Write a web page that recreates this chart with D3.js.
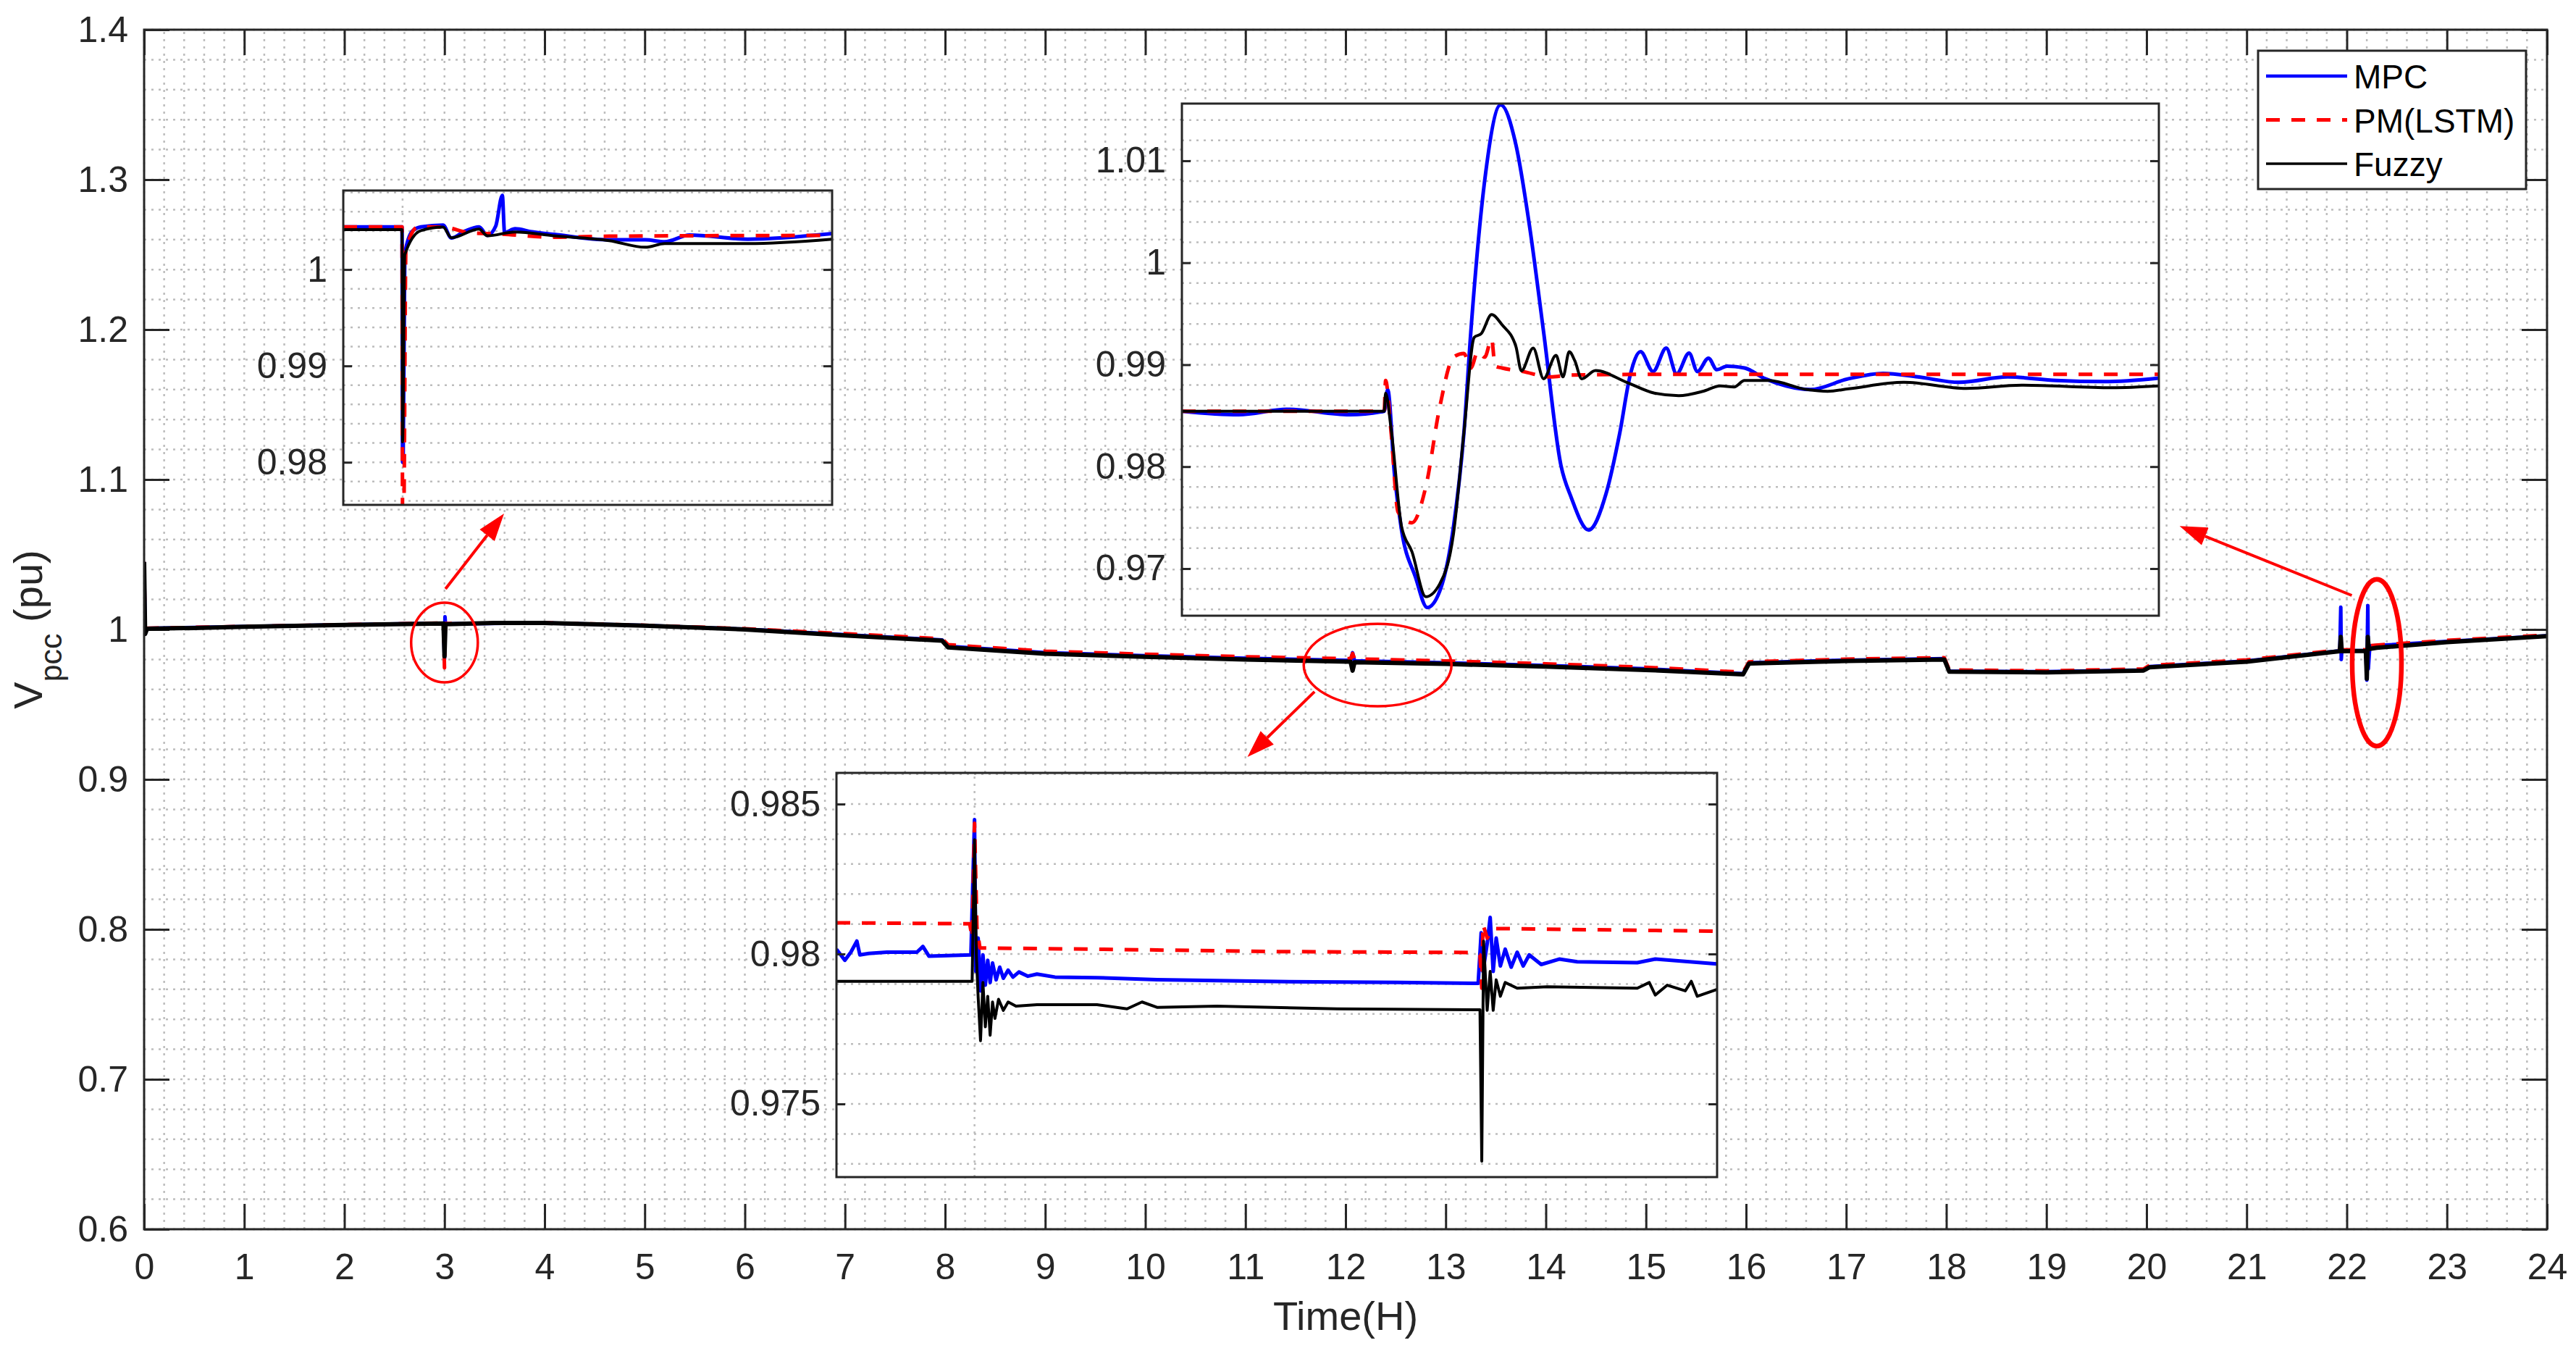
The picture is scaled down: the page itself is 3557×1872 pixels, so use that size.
<!DOCTYPE html>
<html>
<head>
<meta charset="utf-8">
<script src="https://cdn.jsdelivr.net/npm/d3@7"></script>
<style>
  body { margin: 0; background: #fff; }
  svg { display: block; font-family: "Liberation Sans", Arial, sans-serif; }
</style>
</head>
<body>
<svg id="chart"></svg>
<script>
// series names and styles
let seriesNames = ["MPC", "PM(LSTM)", "Fuzzy"];
let seriesColors = ["#0000ff", "#ff0000", "#000000"];

// x ticks (hours) and y ticks of the main plot
let xTicks = d3.range(0, 25, 1);
let xTickLabels = xTicks.map(d => String(d));
let yTicks = [0.6, 0.7, 0.8, 0.9, 1.0, 1.1, 1.2, 1.3, 1.4];
let yTickLabels = ["0.6", "0.7", "0.8", "0.9", "1", "1.1", "1.2", "1.3", "1.4"];

// main plot, [time (H), Vpcc (pu)]
let mainMpc = [
  [0, 1.045], [0.01, 0.997], [0.03, 1.0007], [1, 1.0019], [2, 1.0031], [2.99, 1.0042],
  [3.0, 0.9800], [3.005, 1.0085], [3.01, 1.0038], [4, 1.0044], [5, 1.0026], [6, 1.0002],
  [7, 0.9965], [7.97, 0.9930], [8.03, 0.9888], [9, 0.9845], [10, 0.9825], [11, 0.9808],
  [12.05, 0.9793], [12.07, 0.9845], [12.09, 0.9791], [13, 0.9778], [14, 0.9760], [15, 0.9738],
  [15.97, 0.9705], [16.03, 0.9778], [17, 0.9795], [17.98, 0.9805], [18.03, 0.9722], [19, 0.9718],
  [19.97, 0.9730], [20.03, 0.9752], [21, 0.9790], [21.93, 0.9858], [21.94, 1.0148], [21.945, 0.9800],
  [21.95, 0.9858], [22.19, 0.9860], [22.2, 0.9662], [22.21, 1.0160], [22.215, 0.9738], [22.23, 0.9890],
  [23, 0.9920], [24, 0.9958]
];
let mainPm = [
  [0, 1.045], [0.01, 0.997], [0.03, 1.0008], [1, 1.0020], [2, 1.0032], [2.99, 1.0043],
  [3.0, 0.9744], [3.01, 1.0040], [4, 1.0045], [5, 1.0028], [6, 1.0005], [7, 0.9972],
  [7.97, 0.9938], [8.03, 0.9898], [9, 0.9855], [10, 0.9835], [11, 0.9818], [12.05, 0.9805],
  [12.07, 0.9840], [12.09, 0.9804], [13, 0.9790], [14, 0.9771], [15, 0.9748], [15.97, 0.9715],
  [16.03, 0.9784], [17, 0.9802], [17.98, 0.9812], [18.03, 0.9730], [19, 0.9724], [19.97, 0.9736],
  [20.03, 0.9760], [21, 0.9797], [21.93, 0.9864], [22.19, 0.9865], [22.2, 0.9745], [22.21, 0.9910],
  [22.22, 0.9892], [23, 0.9927], [24, 0.9963]
];
let mainFuzzy = [
  [0, 1.045], [0.01, 0.997], [0.03, 1.0005], [0.5, 1.0010], [1, 1.0018], [2, 1.0030],
  [2.99, 1.0040], [3.0, 0.9821], [3.01, 1.0035], [3.5, 1.0043], [4, 1.0043], [5, 1.0025],
  [6, 1.0000], [7, 0.9960], [7.97, 0.9925], [8.03, 0.9880], [9, 0.9838], [10, 0.9818],
  [11, 0.9800], [12.05, 0.9785], [12.07, 0.9725], [12.09, 0.9782], [13, 0.9770], [14, 0.9752],
  [15, 0.9730], [15.97, 0.9700], [16.03, 0.9773], [17, 0.9790], [17.98, 0.9800], [18.03, 0.9718],
  [19, 0.9714], [19.97, 0.9726], [20.03, 0.9748], [21, 0.9785], [21.93, 0.9855], [21.94, 0.9950],
  [21.95, 0.9855], [22.19, 0.9858], [22.2, 0.9672], [22.21, 0.9950], [22.22, 0.9870], [22.3, 0.9878],
  [23, 0.9915], [24, 0.9955]
];

// zoom 1 (event near 3 H), [time (s) in window, Vpcc]
let inset1Ticks = [0.98, 0.99, 1.0];
let inset1Labels = ["0.98", "0.99", "1"];
let inset1Mpc = [
  [0, 1.00442], [106, 1.00442], [107, 0.9800], [108, 0.9800], [111, 1.0016], [125, 1.0040],
  [140, 1.00442], [180, 1.00462], [195, 1.00327], [220, 1.0040], [245, 1.00442], [260, 1.00354],
  [275, 1.0045], [287, 1.00769], [291, 1.00385], [310, 1.00423], [340, 1.00392], [380, 1.00365],
  [480, 1.00308], [545, 1.00308], [580, 1.00288], [625, 1.00358], [730, 1.00315], [882, 1.00373]
];
let inset1Pm = [
  [0, 1.00442], [106, 1.00442], [107, 0.9740], [109, 0.9740], [113, 1.0020], [135, 1.00442],
  [180, 1.0044], [230, 1.0038], [280, 1.0037], [380, 1.00335], [480, 1.00346], [882, 1.00354]
];
let inset1Fuzzy = [
  [0, 1.00415], [106, 1.00415], [107, 0.98212], [111, 1.00154], [140, 1.00404], [180, 1.0044],
  [195, 1.0033], [245, 1.0042], [260, 1.0035], [310, 1.0039], [380, 1.0035], [480, 1.0030],
  [545, 1.00231], [580, 1.00269], [730, 1.00269], [882, 1.00315]
];

// zoom 2 (event near 22.2 H)
let inset2Ticks = [0.97, 0.98, 0.99, 1.0, 1.01];
let inset2Labels = ["0.97", "0.98", "0.99", "1", "1.01"];
let inset2Mpc = [
  [0, 0.98544], [82, 0.98509], [152, 0.98562], [242, 0.98509], [287, 0.98537], [292, 0.98544],
  [297, 0.98756], [307, 0.97908], [317, 0.97378], [337, 0.96919], [354, 0.96618], [372, 0.96777],
  [392, 0.97413], [407, 0.98332], [417, 0.99322], [437, 1.00806], [460, 1.01548], [482, 1.01159],
  [502, 1.00346], [522, 0.99322], [547, 0.98014], [562, 0.97696], [587, 0.97378], [612, 0.97731],
  [632, 0.98332], [647, 0.98898], [662, 0.99127], [680, 0.98933], [699, 0.99163], [714, 0.98910],
  [732, 0.99113], [744, 0.98933], [760, 0.99064], [772, 0.98951], [787, 0.98986], [812, 0.98968],
  [842, 0.98862], [872, 0.98792], [907, 0.98756], [962, 0.98862], [1012, 0.98915], [1062, 0.98880],
  [1122, 0.98827], [1192, 0.98880], [1262, 0.98845], [1332, 0.98834], [1410, 0.98869]
];
let inset2Pm = [
  [0, 0.98544], [292, 0.98544], [294, 0.98845], [302, 0.98332], [312, 0.97555], [332, 0.97450],
  [352, 0.97802], [372, 0.98580], [392, 0.99074], [407, 0.99110], [417, 0.98968], [427, 0.99127],
  [437, 0.99074], [447, 0.99251], [452, 0.98986], [462, 0.98968], [492, 0.98933], [532, 0.98880],
  [562, 0.98898], [662, 0.98905], [1410, 0.98905]
];
let inset2Fuzzy = [
  [0, 0.98544], [292, 0.98544], [294, 0.98721], [302, 0.98367], [317, 0.97413], [332, 0.97166],
  [352, 0.96724], [372, 0.96848], [392, 0.97343], [407, 0.98332], [422, 0.99269], [432, 0.99304],
  [447, 0.99491], [462, 0.99392], [482, 0.99180], [490, 0.98940], [507, 0.99163], [522, 0.98862],
  [540, 0.99092], [550, 0.98880], [559, 0.99127], [567, 0.99039], [577, 0.98862], [597, 0.98943],
  [642, 0.98827], [682, 0.98721], [717, 0.98696], [752, 0.98739], [777, 0.98792], [797, 0.98781],
  [812, 0.98845], [847, 0.98845], [902, 0.98756], [932, 0.98739], [962, 0.98763], [1042, 0.98827],
  [1132, 0.98767], [1212, 0.98799], [1342, 0.98774], [1410, 0.98792]
];

// zoom 3 (events near 12 H)
let inset3Ticks = [0.975, 0.98, 0.985];
let inset3Labels = ["0.975", "0.98", "0.985"];
let inset3Mpc = [
  [0, 0.98016], [14, 0.97979], [24, 0.98006], [34, 0.98043], [39, 0.97997], [54, 0.98002],
  [84, 0.98006], [134, 0.98006], [144, 0.98025], [154, 0.97993], [224, 0.97997], [230, 0.98448],
  [232, 0.97942], [236, 0.98053], [240, 0.97877], [244, 0.97997], [248, 0.97896], [252, 0.97979],
  [256, 0.97905], [260, 0.97970], [266, 0.97914], [272, 0.97956], [278, 0.97919], [286, 0.97946],
  [294, 0.97923], [304, 0.97940], [319, 0.97926], [334, 0.97933], [364, 0.97923], [434, 0.97921],
  [534, 0.97914], [734, 0.97908], [934, 0.97905], [1069, 0.97902], [1074, 0.98071], [1077, 0.97942],
  [1084, 0.98034], [1089, 0.98122], [1094, 0.97942], [1099, 0.98053], [1106, 0.97960], [1114, 0.98016],
  [1124, 0.97956], [1134, 0.98006], [1144, 0.97960], [1154, 0.97997], [1174, 0.97965], [1204, 0.97983],
  [1234, 0.97974], [1334, 0.97971], [1364, 0.97983], [1467, 0.97967]
];
let inset3Pm = [
  [0, 0.98104], [222, 0.98101], [226, 0.98053], [230, 0.98436], [234, 0.98090], [239, 0.98020],
  [434, 0.98016], [734, 0.98008], [1054, 0.98005], [1072, 0.97997], [1075, 0.97886], [1077, 0.98099],
  [1084, 0.98053], [1094, 0.98085], [1467, 0.98076]
];
let inset3Fuzzy = [
  [0, 0.97909], [226, 0.97909], [230, 0.98381], [233, 0.97997], [236, 0.97859], [240, 0.97711],
  [244, 0.97905], [248, 0.97757], [252, 0.97859], [256, 0.97729], [260, 0.97840], [264, 0.97785],
  [270, 0.97849], [278, 0.97812], [286, 0.97840], [299, 0.97826], [334, 0.97831], [434, 0.97831],
  [484, 0.97817], [509, 0.97840], [534, 0.97822], [634, 0.97826], [834, 0.97817], [1069, 0.97814],
  [1072, 0.97814], [1075, 0.97309], [1078, 0.98043], [1084, 0.97812], [1089, 0.97942], [1094, 0.97812],
  [1099, 0.97914], [1106, 0.97859], [1114, 0.97905], [1134, 0.97886], [1184, 0.97891], [1334, 0.97886],
  [1354, 0.97905], [1364, 0.97863], [1384, 0.97896], [1414, 0.97877], [1424, 0.97909], [1434, 0.97859],
  [1467, 0.97882]
];

// canvas
let width = 3557;
let height = 1872;
let plot = {left: 199, top: 41, right: 3517, bottom: 1697};
let axisColor = "#262626";
let gridColor = "#bdbdbd";

let svg = d3.select("#chart")
  .attr("width", width)
  .attr("height", height)
  .attr("viewBox", [0, 0, width, height]);

let xScale = d3.scaleLinear().domain([0, 24]).range([plot.left, plot.right]);
let yScale = d3.scaleLinear().domain([0.6, 1.4]).range([plot.bottom, plot.top]);

let defs = svg.append("defs");
defs.append("clipPath").attr("id", "clip-main")
  .append("rect")
  .attr("x", plot.left).attr("y", plot.top)
  .attr("width", plot.right - plot.left).attr("height", plot.bottom - plot.top);

// dotted grid
let drawGrid = (g, xs, ys, xValues, yValues) => {
  let [x0, x1] = xs.range();
  let [y0, y1] = ys.range();
  g.selectAll(null).data(xValues).enter().append("line")
    .attr("x1", d => xs(d)).attr("x2", d => xs(d))
    .attr("y1", y0).attr("y2", y1)
    .attr("stroke", gridColor).attr("stroke-width", 2.5)
    .attr("stroke-dasharray", "3,7");
  g.selectAll(null).data(yValues).enter().append("line")
    .attr("x1", x0).attr("x2", x1)
    .attr("y1", d => ys(d)).attr("y2", d => ys(d))
    .attr("stroke", gridColor).attr("stroke-width", 2.5)
    .attr("stroke-dasharray", "3,7");
};

let gridG = svg.append("g");
drawGrid(gridG, xScale, yScale,
  d3.range(0, 24.001, 0.2),
  d3.range(0.6, 1.4001, 0.02));

// axes with inward ticks on all four sides
let styleAxis = (g) => {
  g.select(".domain").remove();
  g.selectAll(".tick line").attr("stroke", axisColor).attr("stroke-width", 3);
  g.selectAll(".tick text").attr("fill", axisColor).attr("font-size", 50);
};

svg.append("g")
  .attr("transform", "translate(0," + plot.bottom + ")")
  .call(d3.axisBottom(xScale).tickValues(xTicks).tickSize(-35).tickPadding(33)
    .tickFormat((d, i) => xTickLabels[i]))
  .call(styleAxis);
svg.append("g")
  .attr("transform", "translate(0," + plot.top + ")")
  .call(d3.axisTop(xScale).tickValues(xTicks).tickSize(-35).tickFormat(""))
  .call(styleAxis);
svg.append("g")
  .attr("transform", "translate(" + plot.left + ",0)")
  .call(d3.axisLeft(yScale).tickValues(yTicks).tickSize(-35).tickPadding(22)
    .tickFormat((d, i) => yTickLabels[i]))
  .call(styleAxis);
svg.append("g")
  .attr("transform", "translate(" + plot.right + ",0)")
  .call(d3.axisRight(yScale).tickValues(yTicks).tickSize(-35).tickFormat(""))
  .call(styleAxis);

// the three series
let drawSeries = (g, xs, ys, data, i, widths, clipId, curve) => {
  let line = d3.line().x(d => xs(d[0])).y(d => ys(d[1])).curve(curve || d3.curveLinear);
  g.append("path")
    .datum(data)
    .attr("clip-path", "url(#" + clipId + ")")
    .attr("d", line)
    .attr("fill", "none")
    .attr("stroke", seriesColors[i])
    .attr("stroke-width", widths[i])
    .attr("stroke-linejoin", "round")
    .attr("stroke-dasharray", i == 1 ? "19,16" : null);
};

let mainG = svg.append("g");
[mainMpc, mainPm, mainFuzzy].forEach((data, i) => {
  drawSeries(mainG, xScale, yScale, data, i, [5, 5, 6], "clip-main");
});

// box of the main axes
svg.append("rect")
  .attr("x", plot.left).attr("y", plot.top)
  .attr("width", plot.right - plot.left).attr("height", plot.bottom - plot.top)
  .attr("fill", "none").attr("stroke", axisColor).attr("stroke-width", 3);

// ellipses and arrows, in data units of the main plot
let marks = [
  {cx: 3.0, cy: 0.9913, rx: 0.333, ry: 0.0266, w: 3.5},
  {cx: 12.32, cy: 0.9763, rx: 0.738, ry: 0.0275, w: 3.5},
  {cx: 22.30, cy: 0.9778, rx: 0.246, ry: 0.0556, w: 6.5}
];
let arrows = [
  {from: [3.01, 1.0271], to: [3.595, 1.0773]},
  {from: [11.69, 0.9585], to: [11.02, 0.915]},
  {from: [22.05, 1.0227], to: [20.33, 1.069]}
];

svg.append("g").selectAll("ellipse")
  .data(marks).enter().append("ellipse")
  .attr("cx", d => xScale(d.cx)).attr("cy", d => yScale(d.cy))
  .attr("rx", d => xScale(d.cx + d.rx) - xScale(d.cx))
  .attr("ry", d => yScale(d.cy - d.ry) - yScale(d.cy))
  .attr("fill", "none").attr("stroke", "#ff0000")
  .attr("stroke-width", d => d.w);

let arrowG = svg.append("g");
arrows.forEach(a => {
  let x1 = xScale(a.from[0]), y1 = yScale(a.from[1]);
  let x2 = xScale(a.to[0]), y2 = yScale(a.to[1]);
  let ang = Math.atan2(y2 - y1, x2 - x1);
  let len = 38, half = 13;
  let bx = x2 - len * Math.cos(ang), by = y2 - len * Math.sin(ang);
  arrowG.append("line")
    .attr("x1", x1).attr("y1", y1).attr("x2", bx).attr("y2", by)
    .attr("stroke", "#ff0000").attr("stroke-width", 4);
  arrowG.append("polygon")
    .attr("points", [
      [x2, y2],
      [bx + half * Math.sin(ang), by - half * Math.cos(ang)],
      [bx - half * Math.sin(ang), by + half * Math.cos(ang)]
    ].map(p => p.join(",")).join(" "))
    .attr("fill", "#ff0000");
});

// zoomed insets
let drawInset = (id, box, xDomain, yDomain, ticks, labels, minorStep, xGrid, data, curve) => {
  let xs = d3.scaleLinear().domain(xDomain).range([box.x0, box.x1]);
  let ys = d3.scaleLinear().domain(yDomain).range([box.y1, box.y0]);
  let g = svg.append("g");
  g.append("rect")
    .attr("x", box.x0).attr("y", box.y0)
    .attr("width", box.x1 - box.x0).attr("height", box.y1 - box.y0)
    .attr("fill", "#fff");
  defs.append("clipPath").attr("id", id)
    .append("rect")
    .attr("x", box.x0).attr("y", box.y0)
    .attr("width", box.x1 - box.x0).attr("height", box.y1 - box.y0);

  let minor = d3.range(Math.ceil(yDomain[0] / minorStep - 1e-6) * minorStep, yDomain[1], minorStep);
  drawGrid(g, xs, ys, xGrid, minor);

  data.forEach((d, i) => drawSeries(g, xs, ys, d, i, [5, 5, 4], id, curve));

  g.append("g")
    .attr("transform", "translate(" + box.x0 + ",0)")
    .call(d3.axisLeft(ys).tickValues(ticks).tickSize(-12).tickPadding(22)
      .tickFormat((d, i) => labels[i]))
    .call(styleAxis);
  g.append("g")
    .attr("transform", "translate(" + box.x1 + ",0)")
    .call(d3.axisRight(ys).tickValues(ticks).tickSize(-12).tickFormat(""))
    .call(styleAxis);
  g.append("rect")
    .attr("x", box.x0).attr("y", box.y0)
    .attr("width", box.x1 - box.x0).attr("height", box.y1 - box.y0)
    .attr("fill", "none").attr("stroke", axisColor).attr("stroke-width", 3);
};

drawInset("clip-z1", {x0: 474, x1: 1149, y0: 263, y1: 697}, [0, 882], [0.97558, 1.0082],
  inset1Ticks, inset1Labels, 0.002, [107], [inset1Mpc, inset1Pm, inset1Fuzzy], d3.curveMonotoneX);
drawInset("clip-z2", {x0: 1632, x1: 2981, y0: 143, y1: 850}, [0, 1410], [0.96538, 1.01561],
  inset2Ticks, inset2Labels, 0.002, [], [inset2Mpc, inset2Pm, inset2Fuzzy], d3.curveMonotoneX);
drawInset("clip-z3", {x0: 1155, x1: 2371, y0: 1067, y1: 1625}, [0, 1467], [0.97256, 0.98604],
  inset3Ticks, inset3Labels, 0.001, [230], [inset3Mpc, inset3Pm, inset3Fuzzy]);

// legend
let legend = svg.append("g");
legend.append("rect")
  .attr("x", 3118).attr("y", 70).attr("width", 370).attr("height", 191)
  .attr("fill", "#fff").attr("stroke", axisColor).attr("stroke-width", 3);
seriesNames.forEach((name, i) => {
  let ly = 105 + i * 60.5;
  legend.append("line")
    .attr("x1", 3129).attr("x2", 3241).attr("y1", ly).attr("y2", ly)
    .attr("stroke", seriesColors[i]).attr("stroke-width", [4.5, 5, 3.5][i])
    .attr("stroke-dasharray", i == 1 ? "19,16" : null);
  legend.append("text")
    .attr("x", 3250).attr("y", ly + 17)
    .attr("font-size", 46).attr("fill", "#000")
    .text(name);
});

// axis labels
svg.append("text")
  .attr("x", (plot.left + plot.right) / 2).attr("y", 1836)
  .attr("text-anchor", "middle").attr("font-size", 56).attr("fill", axisColor)
  .text("Time(H)");

let yLabel = svg.append("text")
  .attr("transform", "translate(58," + (plot.top + plot.bottom) / 2 + ") rotate(-90)")
  .attr("text-anchor", "middle").attr("font-size", 56).attr("fill", axisColor);
yLabel.append("tspan").text("V");
yLabel.append("tspan").attr("font-size", 43).attr("dy", 27).text("pcc");
yLabel.append("tspan").attr("dy", -27).text(" (pu)");
</script>
</body>
</html>
